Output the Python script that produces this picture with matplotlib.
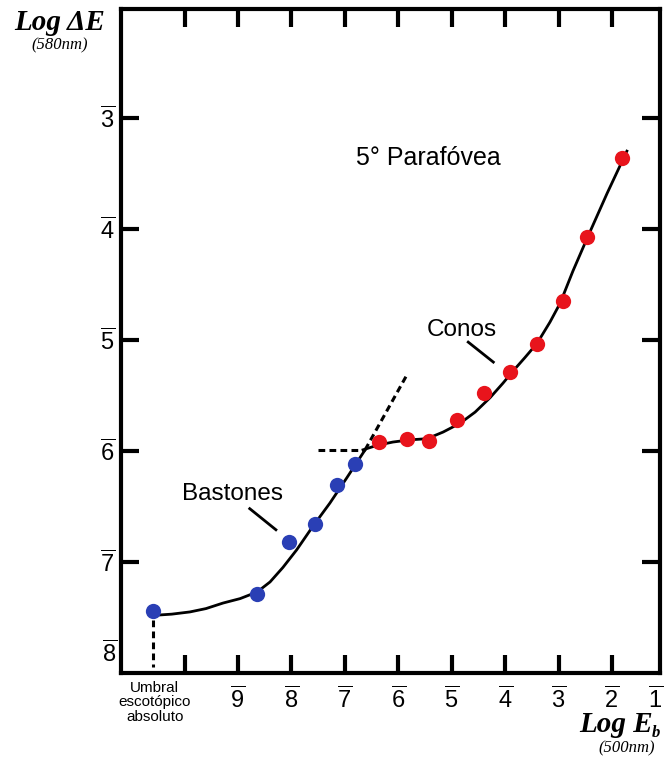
import matplotlib
matplotlib.use("Agg")
import matplotlib.pyplot as plt

plt.rcParams['font.family'] = ['Liberation Sans', 'DejaVu Sans']
plt.rcParams['mathtext.fontset'] = 'custom'
plt.rcParams['mathtext.rm'] = 'Liberation Sans'
plt.rcParams['mathtext.it'] = 'Liberation Sans:italic'
plt.rcParams['mathtext.bf'] = 'Liberation Sans:bold'

blue = '#2a3fb5'
red = '#e8141c'

# measured points (log units, bar notation -> negative values)
rod_x = [-10.59, -8.64, -8.04, -7.56, -7.15, -6.81]
rod_y = [-7.44, -7.29, -6.82, -6.66, -6.31, -6.12]
cone_x = [-6.36, -5.84, -5.42, -4.90, -4.39, -3.91, -3.40, -2.91, -2.46, -1.81]
cone_y = [-5.92, -5.89, -5.91, -5.72, -5.48, -5.29, -5.04, -4.65, -4.07, -3.36]

# fitted curves
rod_curve_x = [-10.55, -10.24, -9.90, -9.60, -9.28, -8.96, -8.64, -8.40, -8.16,
               -7.90, -7.60, -7.28, -6.96, -6.62]
rod_curve_y = [-7.48, -7.47, -7.45, -7.42, -7.37, -7.33, -7.27, -7.18, -7.05,
               -6.89, -6.68, -6.47, -6.24, -5.99]
cone_curve_x = [-6.66, -6.40, -6.10, -5.78, -5.46, -5.16, -4.84, -4.56, -4.28,
                -4.04, -3.85, -3.63, -3.40, -3.16, -2.97, -2.73, -2.46, -2.09, -1.72]
cone_curve_y = [-5.99, -5.95, -5.92, -5.90, -5.89, -5.83, -5.75, -5.65, -5.52,
                -5.39, -5.28, -5.16, -5.03, -4.84, -4.67, -4.38, -4.08, -3.68, -3.30]

# dashed extensions
rod_ext_x = [-6.62, -5.82]
rod_ext_y = [-5.99, -5.30]
cone_ext_x = [-7.50, -6.62]
cone_ext_y = [-5.99, -5.99]
thresh_x = [-10.59, -10.59]
thresh_y = [-7.52, -7.95]

x_ticks = [-10, -9, -8, -7, -6, -5, -4, -3, -2]
x_labels = ['', '9', '8', '7', '6', '5', '4', '3', '2']
y_ticks = [-3, -4, -5, -6, -7]
y_labels = ['3', '4', '5', '6', '7']

fig = plt.figure(figsize=(6.64, 7.60), dpi=100)
ax = fig.add_axes([121/664, 1 - 673/760, (660-121)/664, (673-9)/760])

ax.plot(rod_curve_x, rod_curve_y, color='black', linewidth=2, zorder=2,
        solid_joinstyle='round')
ax.plot(cone_curve_x, cone_curve_y, color='black', linewidth=2, zorder=2,
        solid_joinstyle='round')
for xs, ys in [(rod_ext_x, rod_ext_y), (cone_ext_x, cone_ext_y), (thresh_x, thresh_y)]:
    ax.plot(xs, ys, color='black', linewidth=2.2, linestyle=(0, (2.2, 1.4)), zorder=2)

ax.plot(rod_x, rod_y, 'o', color=blue, markersize=11, markeredgewidth=0, zorder=3)
ax.plot(cone_x, cone_y, 'o', color=red, markersize=11, markeredgewidth=0, zorder=3)

ax.set_xlim(-11.19, -1.10)
ax.set_ylim(-8.0, -2.02)

ax.set_xticks(x_ticks)
ax.set_xticklabels([r'$\overline{%s}$' % s if s else '' for s in x_labels])
ax.set_yticks(y_ticks)
ax.set_yticklabels([r'$\overline{%s}$' % s for s in y_labels])

ax.tick_params(direction='in', length=13, width=3, top=True, right=True,
               labelsize=17)
ax.tick_params(axis='x', pad=10)
ax.tick_params(axis='y', pad=4)
for sp in ax.spines.values():
    sp.set_linewidth(3)

# extra labels outside the tick range
ax.annotate(r'$\overline{1}$', xy=(-1.19, -8.0), xytext=(0, -10),
            textcoords='offset points', fontsize=17, ha='center', va='top',
            annotation_clip=False)
ax.text(-11.27, -7.83, r'$\overline{8}$', fontsize=17, ha='right', va='center',
        clip_on=False)
ax.text(-10.56, -8.07, 'Umbral\nescotópico\nabsoluto', fontsize=11, ha='center',
        va='top', linespacing=1.05, clip_on=False)

ax.text(-5.44, -3.36, '5° Parafóvea', fontsize=18, ha='center', va='center')
ax.text(-9.11, -6.39, 'Bastones', fontsize=17.5, ha='center', va='center')
ax.text(-4.81, -4.91, 'Conos', fontsize=17.5, ha='center', va='center')
ax.plot([-8.78, -8.29], [-6.52, -6.71], color='black', linewidth=2)
ax.plot([-4.69, -4.22], [-5.02, -5.20], color='black', linewidth=2)

fig.text(60/664, 1 - 22/760, 'Log \u0394E', fontsize=21, family='Liberation Serif',
         fontweight='bold', fontstyle='italic', ha='center', va='center')
fig.text(60/664, 1 - 45/760, '(580nm)', fontsize=12, family='Liberation Serif',
         fontstyle='italic', ha='center', va='center')
fig.text(616/664, 1 - 724/760, 'Log E', fontsize=21, family='Liberation Serif',
         fontweight='bold', fontstyle='italic', ha='center', va='center')
fig.text(652/664, 1 - 733/760, 'b', fontsize=12, family='Liberation Serif',
         fontweight='bold', fontstyle='italic', ha='left', va='center')
fig.text(627/664, 1 - 748/760, '(500nm)', fontsize=12, family='Liberation Serif',
         fontstyle='italic', ha='center', va='center')

fig.savefig('out.png', dpi=100)
